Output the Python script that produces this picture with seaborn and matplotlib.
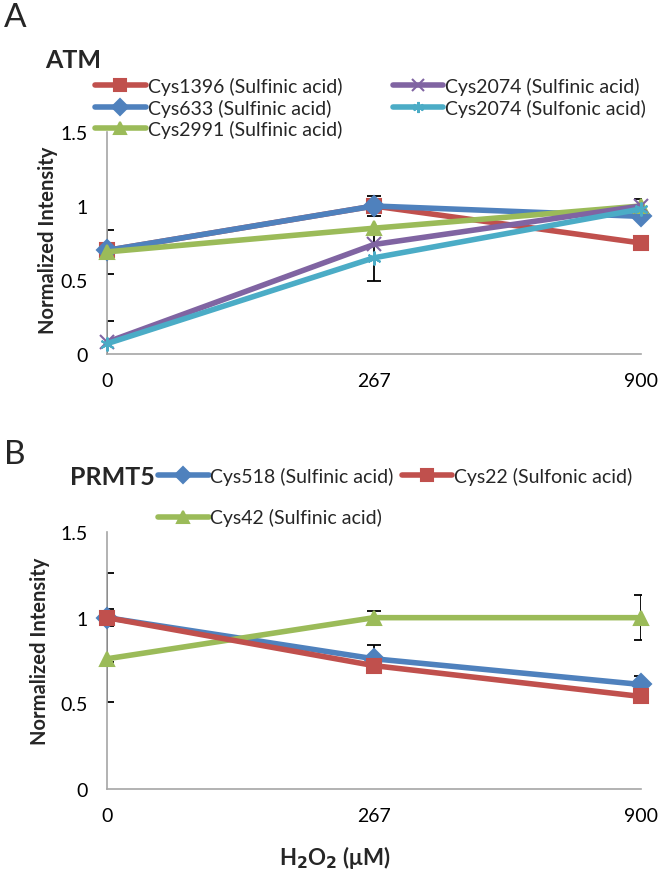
import matplotlib
matplotlib.use("Agg")
import matplotlib.pyplot as plt
import seaborn as sns
import numpy as np

# doses (categorical x positions in the original chart)
doses = ["0", "267", "900"]
yticks = [0, 0.5, 1, 1.5]
ytick_labels = ["0", "0.5", "1", "1.5"]

# panel A - ATM
atm_names = ["Cys1396 (Sulfinic acid)", "Cys633 (Sulfinic acid)", "Cys2991 (Sulfinic acid)",
             "Cys2074 (Sulfinic acid)", "Cys2074 (Sulfonic acid)"]
atm_vals = [
    [0.70, 1.00, 0.75],
    [0.70, 1.00, 0.93],
    [0.69, 0.85, 1.00],
    [0.08, 0.74, 1.00],
    [0.07, 0.65, 0.98],
]
atm_err = [
    [np.nan, np.nan, np.nan],
    [np.nan, 0.07, np.nan],
    [0.15, np.nan, 0.05],
    [0.14, np.nan, np.nan],
    [np.nan, 0.16, np.nan],
]

# panel B - PRMT5
prmt_names = ["Cys518 (Sulfinic acid)", "Cys42 (Sulfinic acid)", "Cys22 (Sulfonic acid)"]
prmt_vals = [
    [1.00, 0.76, 0.61],
    [0.76, 1.00, 1.00],
    [1.00, 0.72, 0.54],
]
prmt_err = [
    [0.26, 0.08, 0.05],
    [0.25, 0.04, 0.13],
    [0.05, 0.04, 0.03],
]

red = "#C0504D"
blue = "#4F81BD"
green = "#9BBB59"
purple = "#8064A2"
cyan = "#4BACC6"

atm_style = [(red, "s"), (blue, "D"), (green, "^"), (purple, "x"), (cyan, (6, 2, 0))]
prmt_style = [(blue, "D"), (green, "^"), (red, "s")]

sns.set_style("white")
plt.rcParams["font.family"] = ["Lato", "DejaVu Sans"]

W, H = 663, 887
fig = plt.figure(figsize=(W / 100, H / 100), dpi=100)


def px_axes(left, top, right, bottom):
    return fig.add_axes([left / W, 1 - bottom / H, (right - left) / W, (bottom - top) / H])


def draw_panel(ax, names, vals, errs, styles):
    xs = np.arange(len(doses))
    for v, e in zip(vals, errs):
        ax.errorbar(xs, v, yerr=e, fmt="none", ecolor="black", elinewidth=1.3,
                    capsize=5, capthick=1.3, zorder=2)
    handles = []
    for name, v, (c, m) in zip(names, vals, styles):
        sns.lineplot(x=xs, y=v, ax=ax, color=c, marker=m, markersize=10,
                     markeredgecolor=c, markeredgewidth=1.5, linewidth=4,
                     label=name, zorder=3, legend=False)
        ax.lines[-1].set_clip_on(False)
        handles.append(ax.lines[-1])
    ax.set_xlim(0, 2)
    ax.set_ylim(0, 1.5)
    ax.set_xticks(xs)
    ax.set_xticklabels(doses)
    ax.set_yticks(yticks)
    ax.set_yticklabels(ytick_labels)
    ax.tick_params(axis="both", length=0, labelsize=14, colors="black")
    ax.tick_params(axis="x", pad=13)
    ax.tick_params(axis="y", pad=14)
    for s in ["top", "right"]:
        ax.spines[s].set_visible(False)
    for s in ["left", "bottom"]:
        ax.spines[s].set_color("#a6a6a6")
        ax.spines[s].set_linewidth(1.2)
    return handles


axA = px_axes(107, 133, 641, 355)
hA = draw_panel(axA, atm_names, atm_vals, atm_err, atm_style)
axB = px_axes(107, 533, 641, 790)
hB = draw_panel(axB, prmt_names, prmt_vals, prmt_err, prmt_style)

fig.legend(hA, atm_names, loc="upper left", bbox_to_anchor=(95 / W, 1 - 78 / H),
           ncol=2, frameon=False, fontsize=14, handlelength=2.6, handletextpad=0.1,
           columnspacing=2.6, labelspacing=0.18, borderpad=0, borderaxespad=0,
           markerscale=0.8)
fig.legend(hB, prmt_names, loc="upper left", bbox_to_anchor=(158 / W, 1 - 468 / H),
           ncol=2, frameon=False, fontsize=14, handlelength=2.6, handletextpad=0.1,
           columnspacing=0.4, labelspacing=1.2, borderpad=0, borderaxespad=0,
           markerscale=0.8)

fig.text(4 / W, 1 - 18 / H, "A", fontsize=24, va="center", ha="left")
fig.text(4 / W, 1 - 455 / H, "B", fontsize=24, va="center", ha="left")
fig.text(45 / W, 1 - 60 / H, "ATM", fontsize=18, fontweight="bold", va="center", ha="left")
fig.text(70 / W, 1 - 478 / H, "PRMT5", fontsize=18, fontweight="bold", va="center", ha="left")

fig.text(48 / W, 1 - 240 / H, "Normalized Intensity", rotation=90, fontsize=14.5,
         fontweight="bold", va="center", ha="center")
fig.text(40 / W, 1 - 651 / H, "Normalized Intensity", rotation=90, fontsize=14.5,
         fontweight="bold", va="center", ha="center")
fig.text(335 / W, 1 - 858 / H, "H$_\\mathbf{2}$O$_\\mathbf{2}$ (μM)", fontsize=16,
         fontweight="bold", va="center", ha="center")

fig.savefig("out.png", dpi=100)
